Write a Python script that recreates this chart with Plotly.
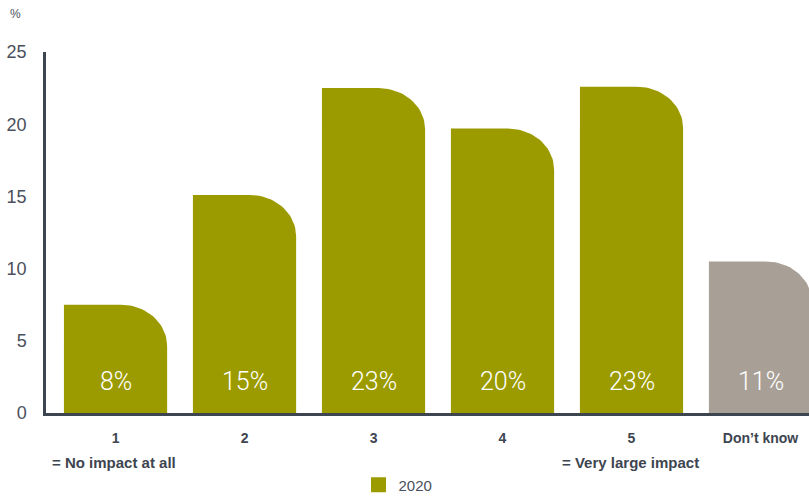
import numpy as np
import plotly.graph_objects as go

# Survey answers on a 1-5 scale plus "Don't know" (share of respondents, %)
categories = ["1", "2", "3", "4", "5", "Don’t know"]
values = [7.5, 15.1, 22.5, 19.7, 22.6, 10.5]
series_name = "2020"
y_ticks = [0, 5, 10, 15, 20, 25]

OLIVE = "#9b9b00"
GREY = "#a89f96"
AXIS = "#3d4550"
TEXT = "#4a505c"
FONT = "Liberation Sans"
bar_colors = [OLIVE] * 5 + [GREY]

W, H = 809, 497
M_L, M_R, M_T, M_B = 46, 0, 52, 84

BAR_HALF = 0.4       # half bar width in category units
RX, RY = 0.36, 2.85  # radii of the rounded top-right corner (x units, y units)


def bar_outline(center, value):
    """Closed outline of a bar whose top-right corner is an elliptical arc."""
    left, right = center - BAR_HALF, center + BAR_HALF
    t = np.linspace(np.pi / 2, 0, 24)
    arc_x = right - RX + RX * np.cos(t)
    arc_y = value - RY + RY * np.sin(t)
    xs = [left, left] + list(arc_x) + [right, left]
    ys = [0, value] + list(arc_y) + [0, 0]
    return xs, ys


fig = go.Figure()

for i, (v, col) in enumerate(zip(values, bar_colors)):
    xs, ys = bar_outline(i, v)
    fig.add_trace(go.Scatter(
        x=xs, y=ys, mode="lines", fill="toself", fillcolor=col,
        line=dict(width=0, color=col), hoverinfo="skip", showlegend=False,
    ))

# legend entry for the survey year
fig.add_trace(go.Scatter(
    x=[None], y=[None], mode="markers", name=series_name,
    marker=dict(symbol="square", size=15, color=OLIVE), showlegend=True,
))

# value labels inside the bars, near the baseline
for i, v in enumerate(values):
    fig.add_annotation(
        x=i, y=2.15, text=f"{int(v + 0.5)}%", showarrow=False,
        font=dict(family="Roboto", weight=300, size=25, color="white"),
        xanchor="center", yanchor="middle",
    )


def page_row(px_from_top):
    """Paper y coordinate for a pixel row of the page."""
    return 1 - (px_from_top - M_T) / (H - M_T - M_B)


# scale explanations under the first and fifth category
fig.add_annotation(
    x=-0.51, y=page_row(462), xref="x", yref="paper",
    text="<b>= No impact at all</b>", showarrow=False,
    xanchor="left", yanchor="middle",
    font=dict(family=FONT, size=15, color=AXIS),
)
fig.add_annotation(
    x=3.99, y=page_row(462), xref="x", yref="paper",
    text="<b>= Very large impact</b>", showarrow=False,
    xanchor="center", yanchor="middle",
    font=dict(family=FONT, size=15, color=AXIS),
)
# unit label above the y axis
fig.add_annotation(
    x=(15 - M_L) / (W - M_L - M_R), y=page_row(14), xref="paper", yref="paper",
    text="%", showarrow=False, xanchor="center", yanchor="middle",
    font=dict(family=FONT, size=12, color=TEXT),
)

fig.update_layout(
    width=W, height=H,
    margin=dict(l=M_L, r=M_R, t=M_T, b=M_B, autoexpand=False),
    paper_bgcolor="white", plot_bgcolor="white",
    font=dict(family=FONT, color=TEXT),
    showlegend=True,
    legend=dict(
        orientation="h", x=398 / W, xref="container", xanchor="center",
        y=1 - 485 / H, yref="container", yanchor="middle",
        font=dict(family=FONT, size=15, color=TEXT),
        itemsizing="trace",
    ),
    xaxis=dict(
        range=[-0.539, 5.376], tickmode="array",
        tickvals=list(range(len(categories))),
        ticktext=[f"<b>{c}</b>" for c in categories],
        tickfont=dict(family=FONT, size=14, color=AXIS),
        showgrid=False, zeroline=False, showline=True, linecolor=AXIS,
        linewidth=3, ticks="", ticklabelstandoff=10, fixedrange=True,
        automargin=False,
    ),
    yaxis=dict(
        range=[0, 25], tickmode="array", tickvals=y_ticks,
        tickfont=dict(family=FONT, size=18, color=TEXT),
        showgrid=False, zeroline=False, showline=True, linecolor=AXIS,
        linewidth=2.5, ticks="", ticklabelstandoff=13, fixedrange=True,
        automargin=False,
    ),
)

fig.write_html("out.html")
